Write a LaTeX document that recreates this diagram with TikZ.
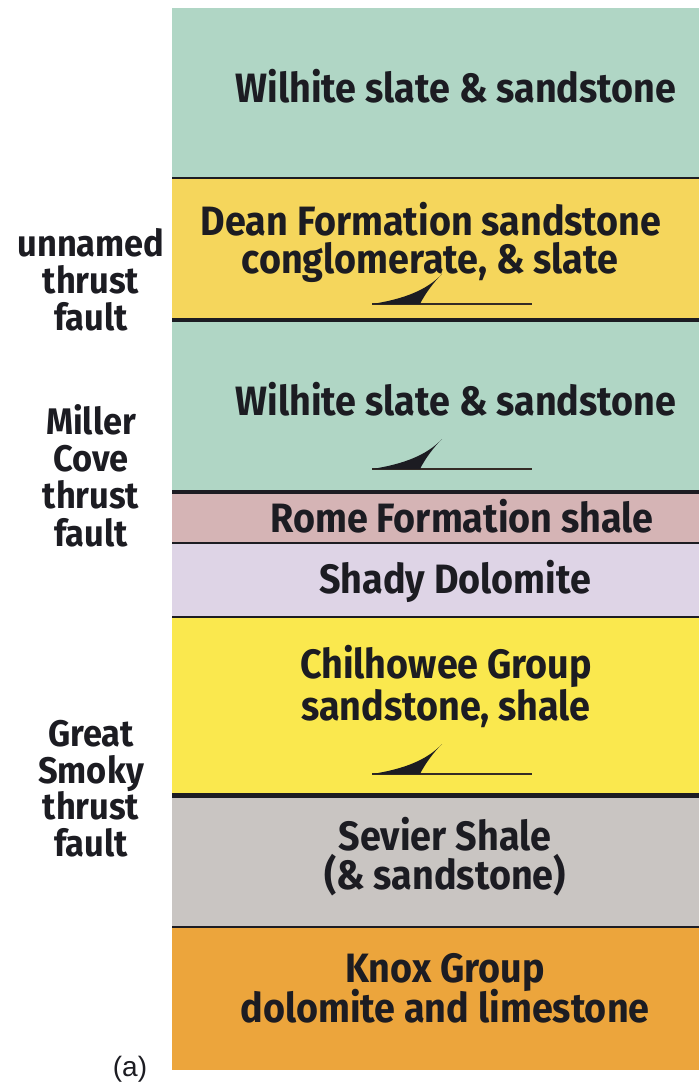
\documentclass[tikz,border=0pt]{standalone}
\usepackage{fontspec}
\setmainfont{Fira Sans}[FakeStretch=0.92]
\newfontfamily\sidefont{Fira Sans}[FakeStretch=0.93]
\newfontfamily\capfont{Liberation Sans}
\definecolor{wilhite}{HTML}{B0D6C5}
\definecolor{dean}{HTML}{F5D65C}
\definecolor{rome}{HTML}{D5B4B5}
\definecolor{shady}{HTML}{DED4E6}
\definecolor{chil}{HTML}{FAE84E}
\definecolor{sevier}{HTML}{C9C5C2}
\definecolor{knox}{HTML}{ECA53C}
\definecolor{ink}{HTML}{1C1C22}
\begin{document}
\begin{tikzpicture}[x=1pt,y=-1pt,
  unittext/.style={font=\fontsize{41}{38}\selectfont\bfseries, text=ink, anchor=base, inner sep=0pt},
  sidetext/.style={font=\sidefont\fontsize{37}{36}\selectfont\bfseries, text=ink, anchor=base, inner sep=0pt},
  contact/.style={draw=ink, line width=#1},
  contact/.default=2pt,
  faultline/.style={draw=ink!85!brown, line width=1.5pt},
  thrust/.pic={
    \draw[faultline] (0,0) -- (160,0);
    \fill[ink] (0,0) .. controls (32,-5) and (55,-14) .. (70,-30)
      .. controls (61,-21) and (53,-10) .. (48,0) -- cycle;
  }]
\path[use as bounding box] (0,0) rectangle (699,1084);
% layers
\fill[wilhite] (172,8) rectangle (699,178);
\fill[dean] (172,178) rectangle (699,320);
\fill[wilhite] (172,320) rectangle (699,492);
\fill[rome] (172,492) rectangle (699,543);
\fill[shady] (172,543) rectangle (699,617);
\fill[chil] (172,617) rectangle (699,795);
\fill[sevier] (172,795) rectangle (699,927);
\fill[knox] (172,927) rectangle (699,1070);
% contacts
\coordinate (c1l) at (172,178); \coordinate (c1r) at (699,178);
\coordinate (c2l) at (172,320); \coordinate (c2r) at (699,320);
\coordinate (c3l) at (172,492); \coordinate (c3r) at (699,492);
\coordinate (c4l) at (172,543); \coordinate (c4r) at (699,543);
\coordinate (c5l) at (172,617); \coordinate (c5r) at (699,617);
\coordinate (c6l) at (172,795); \coordinate (c6r) at (699,795);
\coordinate (c7l) at (172,927); \coordinate (c7r) at (699,927);
\draw[contact=2.5pt] (c1l) -- (c1r);
\draw[contact=4pt] (c2l) -- (c2r);
\draw[contact=4pt] (c3l) -- (c3r);
\draw[contact=2pt] (c4l) -- (c4r);
\draw[contact=2pt] (c5l) -- (c5r);
\draw[contact=5pt] (c6l) -- (c6r);
\draw[contact=2pt] (c7l) -- (c7r);
% thrust symbols
\pic at (372,304) {thrust};
\pic at (372,469) {thrust};
\pic at (372,774) {thrust};
% unit labels
\node[unittext] (w1) at (456,102) {Wilhite slate \& sandstone};
\node[unittext] (d1) at (431,235) {Dean Formation sandstone};
\node[unittext] (d2) at (430,273) {conglomerate, \& slate};
\node[unittext] (w2) at (456,415) {Wilhite slate \& sandstone};
\node[unittext] (r1) at (462,532) {Rome Formation shale};
\node[unittext] (s1) at (455,593) {Shady Dolomite};
\node[unittext] (ch1) at (446,678) {Chilhowee Group};
\node[unittext] (ch2) at (446,720) {sandstone, shale};
\node[unittext] (sv1) at (445,850) {Sevier Shale};
\node[unittext] (sv2) at (445,889) {(\& sandstone)};
\node[unittext] (k1) at (445,982) {Knox Group};
\node[unittext] (k2) at (445,1022) {dolomite and limestone};
% fault names
\node[sidetext] (u1) at (91,256) {unnamed};
\node[sidetext] (u2) at (91,293) {thrust};
\node[sidetext] (u3) at (91,330) {fault};
\node[sidetext] (m1) at (91,434) {Miller};
\node[sidetext] (m2) at (91,471) {Cove};
\node[sidetext] (m3) at (91,508) {thrust};
\node[sidetext] (m4) at (91,546) {fault};
\node[sidetext] (g1) at (91,746) {Great};
\node[sidetext] (g2) at (91,783) {Smoky};
\node[sidetext] (g3) at (91,819) {thrust};
\node[sidetext] (g4) at (91,856) {fault};
\node[anchor=base, inner sep=0pt, font=\capfont\fontsize{28}{30}\selectfont, text=ink] (cap) at (130,1076) {(a)};
\end{tikzpicture}
\end{document}
